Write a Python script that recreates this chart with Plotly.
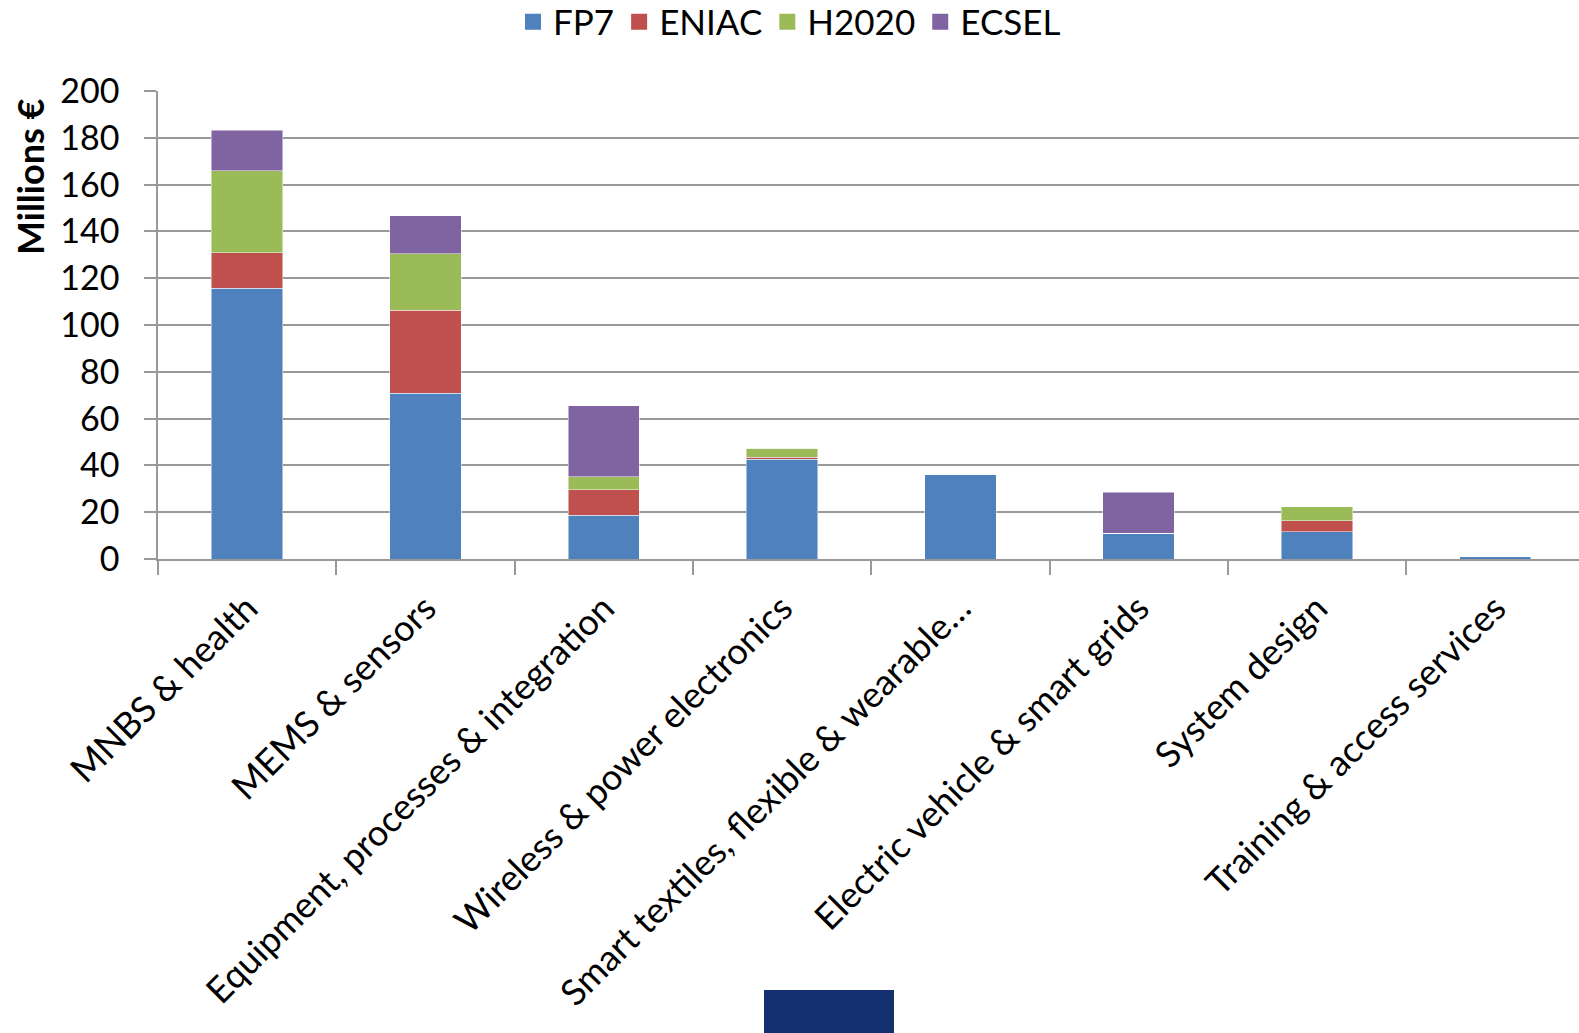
import plotly.graph_objects as go

categories = [
    "MNBS & health",
    "MEMS & sensors",
    "Equipment, processes & integration",
    "Wireless & power electronics",
    "Smart textiles, flexible & wearable…",
    "Electric vehicle & smart grids",
    "System design",
    "Training & access services",
]
fp7 = [115.8, 70.9, 18.8, 42.7, 36.2, 11.1, 11.7, 0.9]
eniac = [15.1, 35.3, 10.9, 0.7, 0, 0, 4.7, 0]
h2020 = [35.0, 24.3, 5.5, 4.0, 0, 0, 6.0, 0]
ecsel = [17.3, 16.1, 30.2, 0, 0, 17.4, 0, 0]
series_names = ["FP7", "ENIAC", "H2020", "ECSEL"]
colors = ["#4F81BD", "#C0504D", "#9BBB59", "#8064A2"]

FONT = "Lato"

fig = go.Figure()
for name, vals, col in zip(series_names, [fp7, eniac, h2020, ecsel], colors):
    fig.add_trace(go.Bar(
        x=categories, y=vals, name=name, showlegend=False,
        marker=dict(color=col, line=dict(color="rgba(255,255,255,0.6)", width=0.8)),
        width=0.4,
    ))
# legend entries with larger square swatches
for name, col in zip(series_names, colors):
    fig.add_trace(go.Scatter(
        x=[None], y=[None], mode="markers", name=name,
        marker=dict(symbol="square", color=col, size=16),
    ))

W, H = 1579, 1033
L, R, T, B = 158, 0, 91, 474
pw = W - L - R
ph = H - T - B
cat_px = 178.3
x_max = -0.5 + pw / cat_px

def px_x(x):
    return (x - L) / pw

def px_y(y):
    return (H - B - y) / ph

fig.update_layout(
    width=W, height=H,
    barmode="stack",
    margin=dict(l=L, r=R, t=T, b=B, pad=0),
    paper_bgcolor="white", plot_bgcolor="white",
    font=dict(family=FONT, color="black", size=32),
    legend=dict(
        orientation="h", xref="container", yref="container",
        x=0.5, xanchor="center", y=1 - 22 / H, yanchor="middle",
        font=dict(size=35, family=FONT), itemsizing="trace",
        traceorder="normal", tracegroupgap=0, itemwidth=30,
    ),
    xaxis=dict(
        type="category", tickangle=-45, tickson="boundaries",
        range=[-0.5, x_max],
        ticks="outside", ticklen=14, tickcolor="#999999", tickwidth=1.5,
        showline=True, linecolor="#999999", linewidth=1.5,
        showgrid=False, tickfont=dict(size=36, family=FONT),
        ticklabelstandoff=12,
    ),
    yaxis=dict(
        range=[0, 200], dtick=20, tick0=0,
        ticks="outside", ticklen=12, tickcolor="#999999", tickwidth=1.5,
        showline=True, linecolor="#999999", linewidth=1.5,
        showgrid=True, gridcolor="#999999", gridwidth=1.5,
        zeroline=False, ticklabelstandoff=18,
        tickfont=dict(size=34, family=FONT),
    ),
    annotations=[dict(
        text="<b>Millions €</b>", textangle=-90,
        xref="paper", yref="paper", x=px_x(30), y=px_y(177),
        xanchor="center", yanchor="middle", showarrow=False,
        font=dict(size=36, family=FONT, color="black"),
    )],
    shapes=[dict(
        type="rect", xref="paper", yref="paper",
        x0=px_x(764), x1=px_x(894), y0=px_y(1040), y1=px_y(990),
        fillcolor="#14306F", line=dict(width=0), layer="above",
    )],
)

fig.write_html("out.html")
